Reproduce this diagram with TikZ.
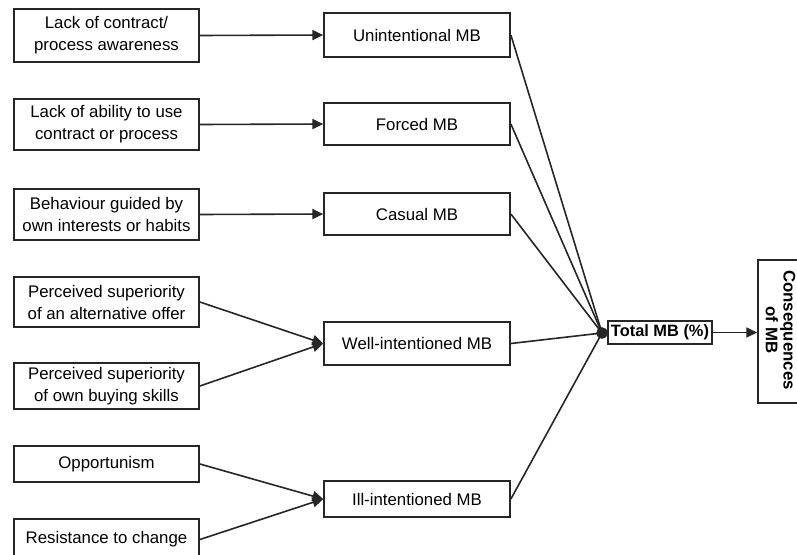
\documentclass[tikz,border=0pt]{standalone}
\usepackage{fontspec}
\setmainfont{Liberation Sans}
\usetikzlibrary{arrows.meta}
\begin{document}
\begin{tikzpicture}[x=0.75pt,y=-0.75pt,
  box/.style={draw=black!85, line width=1.3pt, inner sep=0pt, align=center,
    font=\fontsize{12.6pt}{16.5pt}\selectfont},
  lbox/.style={box, minimum width=138.75pt},
  mbox/.style={box, minimum width=139.5pt},
  conn/.style={line width=1.2pt, draw=black!85},
  arr/.style={conn, -{Triangle[length=8pt,width=7.5pt]}},
  hub/.style={circle, fill=black!85, inner sep=0pt, minimum size=8.5pt}]
\useasboundingbox (0,0) rectangle (797,554);
\clip (0,0) rectangle (797,554);
% left boxes
\node[lbox, minimum height=39.75pt] (l1) at (106.5,35.5) {Lack of contract/\\process awareness};
\node[lbox, minimum height=38.25pt] (l2) at (106.5,124.5) {Lack of ability to use\\contract or process};
\node[lbox, minimum height=38.25pt] (l3) at (106.5,214.5) {Behaviour guided by\\own interests or habits};
\node[lbox, minimum height=37.5pt] (l4) at (106.5,302) {Perceived superiority\\of an alternative offer};
\node[lbox, minimum height=34.5pt] (l5) at (106.5,386) {Perceived superiority\\of own buying skills};
\node[lbox, minimum height=27pt] (l6) at (106.5,464) {Opportunism};
\node[lbox, minimum height=30.75pt] (l7) at (106.5,539.5) {Resistance to change};
% middle boxes
\node[mbox, minimum height=33pt] (m1) at (417,35) {Unintentional MB};
\node[mbox, minimum height=31.5pt] (m2) at (417,124) {Forced MB};
\node[mbox, minimum height=31.5pt] (m3) at (417,214) {Casual MB};
\node[mbox, minimum height=32.25pt] (m4) at (417,343.5) {Well-intentioned MB};
\node[mbox, minimum height=27pt] (m5) at (417,499) {Ill-intentioned MB};
% total and consequences
\node[box, minimum width=78pt, minimum height=17.25pt, font=\fontsize{12.3pt}{14pt}\selectfont\bfseries] (total) at (660,332.5) {Total MB (\%)};
\node[hub] (dot) at (602,333) {};
\node[draw=black!85, line width=1.3pt, minimum width=54pt, minimum height=107.25pt, inner sep=0pt] (cons) at (794,331.5) {};
\node[rotate=-90, align=center, inner sep=0pt, font=\fontsize{12.6pt}{13.2pt}\selectfont\bfseries] (conslabel) at (780.5,330) {Consequences\\of MB};
% arrows left -> middle
\draw[arr] (l1.east) -- (m1.west);
\draw[arr] (l2.east) -- (m2.west);
\draw[arr] (l3.east) -- (m3.west);
\draw[arr] (l4.east) -- (m4.west);
\draw[arr] (l5.east) -- (m4.west);
\draw[arr] (l6.east) -- (m5.west);
\draw[arr] (l7.east) -- (m5.west);
% lines middle -> hub
\draw[conn] (m1.east) -- (dot.center);
\draw[conn] (m2.east) -- (dot.center);
\draw[conn] (m3.east) -- (dot.center);
\draw[conn] (m4.east) -- (dot.center);
\draw[conn] (m5.east) -- (dot.center);
\node[hub] at (dot.center) {};
\draw[arr] (total.east) -- (total.east -| cons.west);
\end{tikzpicture}
\end{document}
